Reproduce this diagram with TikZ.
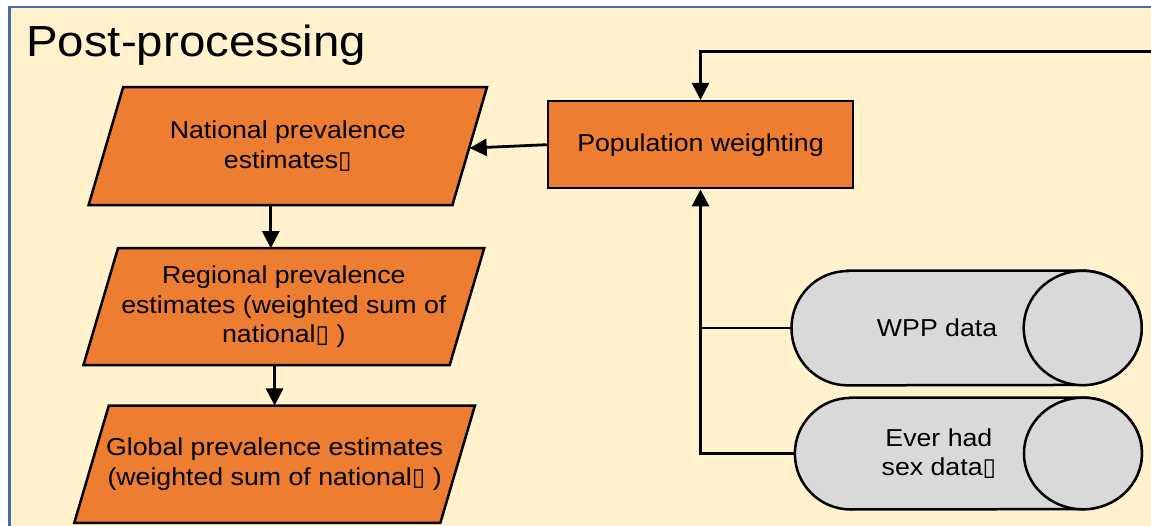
\documentclass[tikz,border=0pt]{standalone}
\usepackage{fontspec}
\setmainfont{Liberation Sans}[FakeStretch=1.09]
\newfontfamily\djv{DejaVu Sans}
\usetikzlibrary{arrows.meta}
\definecolor{cream}{HTML}{FFF2CC}
\definecolor{framec}{HTML}{41719C}
\definecolor{orangec}{HTML}{ED7D31}
\definecolor{grayc}{HTML}{D9D9D9}
\newcommand\tofu{{\djv\char"25AF}}
\pgfdeclarelayer{back}
\pgfdeclarelayer{mid}
\pgfsetlayers{back,mid,main}
\begin{document}
\begin{tikzpicture}[x=1pt,y=-1pt,
  every node/.style={font=\fontsize{24.5}{29.5}\selectfont},
  frame/.style={draw=framec, line width=2.6pt, fill=cream},
  paratext/.style={minimum height=117.7pt, inner sep=0pt, align=center},
  parashape/.style={draw=black, line width=2.5pt, fill=orangec, line join=miter},
  procbox/.style={draw=black, line width=2.5pt, fill=orangec, minimum width=305pt,
    minimum height=87pt, inner sep=0pt},
  dbtext/.style={inner sep=0pt, align=center},
  dbshape/.style={draw=black, line width=2.5pt, fill=grayc},
  conn/.style={line width=2.8pt},
  arr/.style={conn, -{Triangle[length=17pt,width=17pt]}}
]
\useasboundingbox (0,0) rectangle (1151,526);
\begin{pgfonlayer}{back}
\fill[white] (0,0) rectangle (1151,526);
\draw[frame] (9.7,7) rectangle (1156,531);
\end{pgfonlayer}
\node[anchor=base west, inner sep=0pt, font=\fontsize{43.5}{50}\selectfont] (title) at (26,56.5) {Post-processing};

\node[paratext, minimum width=363.4pt] (nat) at (287.8,146.1) {National prevalence\\estimates\tofu};
\node[paratext, minimum width=365.8pt, minimum height=116.7pt] (reg) at (283.8,306.7) {Regional prevalence\\estimates (weighted sum of\\national\tofu\ )};
\node[paratext, minimum width=365.7pt, minimum height=117pt] (glob) at (274.6,464.2) {Global prevalence estimates\\(weighted sum of national\tofu\ )};

\node[procbox] (pw) at (700.5,144.7) {Population weighting};

\node[dbtext, minimum width=290.8pt, minimum height=114.3pt] (wpp) at (937.1,328) {WPP data};
\node[dbtext, minimum width=287.7pt, minimum height=111.6pt] (ever) at (938.9,453.5) {Ever had\\sex data\tofu};

\begin{pgfonlayer}{mid}
\foreach \p in {nat,reg,glob}{
  \draw[parashape] ([xshift=17.3pt]\p.north west) -- ([xshift=17.3pt]\p.north east)
    -- ([xshift=-17.3pt]\p.south east) -- ([xshift=-17.3pt]\p.south west) -- cycle;
}
\draw[dbshape] ([xshift=56pt]wpp.north west) -- (wpp.north east)
  arc[start angle=90, end angle=-90, x radius=59pt, y radius=57.15pt]
  -- ([xshift=56pt]wpp.south west)
  arc[start angle=270, end angle=90, x radius=56pt, y radius=57.15pt] -- cycle;
\draw[dbshape] (wpp.east) ellipse[x radius=59pt, y radius=57.15pt];
\draw[dbshape] ([xshift=56pt]ever.north west) -- (ever.north east)
  arc[start angle=90, end angle=-90, x radius=59pt, y radius=55.8pt]
  -- ([xshift=56pt]ever.south west)
  arc[start angle=270, end angle=90, x radius=56pt, y radius=55.8pt] -- cycle;
\draw[dbshape] (ever.east) ellipse[x radius=59pt, y radius=55.8pt];
\end{pgfonlayer}

\coordinate (fb) at (1151,51.7);
\draw[arr] (fb) -| (pw.north);
\draw[arr] (pw.west) -- ([yshift=-2pt]nat.east);
\draw[arr] ([xshift=-17pt]nat.south) -- ([xshift=-17pt]nat.south |- reg.north);
\draw[arr] (reg.south -| glob.north) -- (glob.north);
\draw[arr] (ever.west) -| (pw.south);
\draw[conn] (wpp.west) -- (wpp.west -| pw.south);
\end{tikzpicture}
\end{document}
